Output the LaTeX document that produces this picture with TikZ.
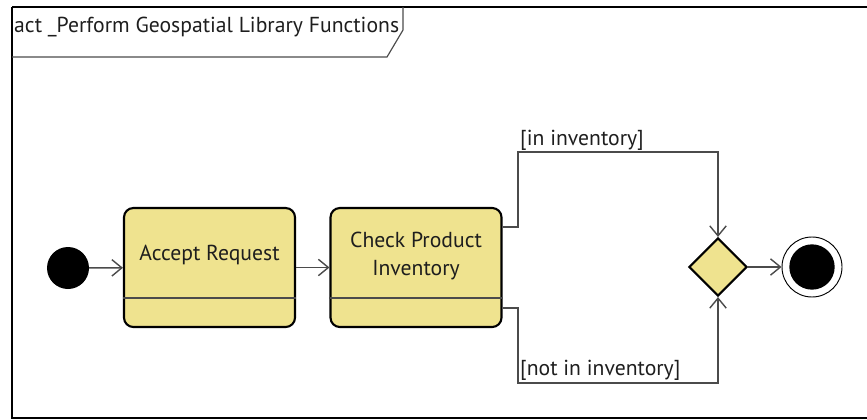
\documentclass[tikz,border=0pt]{standalone}
\usepackage{fontspec}
\setmainfont{PT Sans}
\usetikzlibrary{arrows.meta,shapes.geometric}

\definecolor{actfill}{RGB}{239,227,143}
\definecolor{flowgray}{RGB}{75,75,75}
\definecolor{textdark}{RGB}{30,30,30}

\tikzset{
  action/.style={draw=black, fill=actfill, line width=1.8pt, rounded corners=8pt,
    minimum width=5.13cm, minimum height=3.57cm, inner sep=0pt},
  acttext/.style={text=textdark, align=center, inner sep=0pt},
  divider/.style={draw=flowgray, line width=1.2pt},
  flow/.style={draw=flowgray, line width=1.2pt, ->},
  guard/.style={anchor=west, text=textdark, inner sep=0pt},
  initialnode/.style={circle, fill=black, minimum size=1.26cm, inner sep=0pt},
  decision/.style={diamond, aspect=1, draw=black, fill=actfill, line width=1.8pt,
    minimum size=1.74cm, inner sep=0pt},
  finalnode/.style={circle, draw=black, fill=white, line width=0.8pt, minimum size=1.8cm, inner sep=0pt},
  finaldot/.style={circle, fill=black, minimum size=1.36cm, inner sep=0pt}
}

\begin{document}
\begin{tikzpicture}[x=0.03cm, y=-0.03cm, >={Straight Barb[length=8.5pt,width=14pt]},
    font=\fontsize{18.5}{24}\selectfont]
    \useasboundingbox (0,0) rectangle (867,419);
    % Frame and tab
    \draw[line width=2.2pt] (12,7) -- (880,7);
    \draw[line width=2.2pt] (12,7) -- (12,418) -- (880,418);
    \draw[line width=1pt, flowgray] (12,57) -- (387,57) -- (403,30) -- (403,7);
    \node[anchor=west, text=textdark, inner sep=0pt] (title) at (14,27) {act \_Perform Geospatial Library Functions};

    % Initial node
    \node[initialnode] (start) at (68,268) {};

    % Actions
    \node[action] (accept) at (209.5,267.5) {};
    \draw[divider] (accept.west |- 0,298) -- (accept.east |- 0,298);
    \node[acttext] (acceptLabel) at (209.5,255) {Accept Request};

    \node[action] (check) at (416,267.5) {};
    \draw[divider] (check.west |- 0,298) -- (check.east |- 0,298);
    \node[acttext] (checkLabel) at (416,256) {Check Product\\Inventory};

    % Merge and final node
    \node[decision] (merge) at (718,267) {};
    \node[finalnode] (stop) at (812,267) {};
    \node[finaldot] (stopDot) at (stop) {};

    % Flows
    \draw[flow] (start) -- (accept);
    \draw[flow] (accept) -- (check);
    \draw[flow] (merge) -- (stop);
    \draw[flow] (check.east |- 0,227) -- (518,227) -- (518,152) -| (merge.north);
    \draw[flow] (check.east |- 0,308) -- (518,308) -- (518,383) -| (merge.south);

    % Guards
    \node[guard] (inLabel) at (520,140) {[in inventory]};
    \node[guard] (notInLabel) at (520,370) {[not in inventory]};
\end{tikzpicture}
\end{document}
